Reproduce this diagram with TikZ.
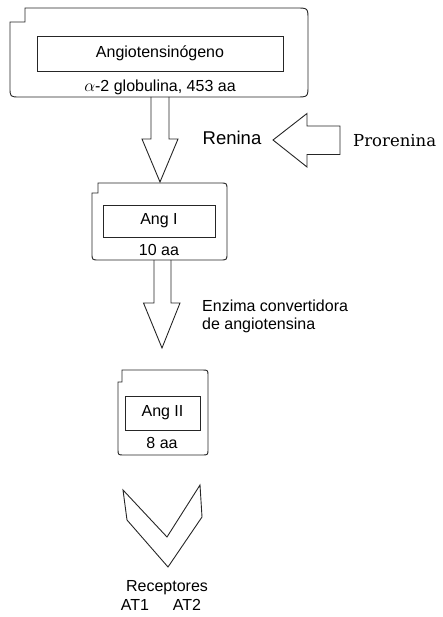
\documentclass[tikz,border=0pt]{standalone}
\usepackage{fontspec}
\newfontfamily\arialfont{Liberation Sans}
\newfontfamily\schoolfont{DejaVu Serif}

\begin{document}
\begin{tikzpicture}[x=1pt, y=-1pt]
	\tikzstyle{frame} = [
		draw=black!85, line width=0.9pt
	]
	\tikzstyle{caption} = [
		font=\arialfont\fontsize{16}{18}\selectfont, inner sep=0pt
	]
	\tikzstyle{comp} = [
		rectangle, draw=black!85, line width=0.9pt, caption
	]
	\tikzstyle{blockarrow} = [
		draw=black!85, line width=0.9pt, line join=miter
	]

	\useasboundingbox (0,0) rectangle (442,617);

	% Angiotensinogeno
	\draw[frame] (10,22) -- (25,22) -- (25,8) -- (296,8) .. controls (308,8) .. (308,20)
		-- (308,85) .. controls (308,97) .. (296,97) -- (20,97) .. controls (10,97) .. (10,87) -- cycle;
	\node (Angio) [comp, minimum width=246pt, minimum height=35pt] at (160,53.5) {Angiotensinógeno};
	\node (Angio_info) [caption] at (160,87) {$\alpha$-2 globulina, 453 aa};
	\coordinate (Angio_out) at (160,97);

	% Ang I
	\draw[frame] (92,193) -- (98,193) -- (98,183) -- (220,183) .. controls (227,183) .. (227,190)
		-- (227,253) .. controls (227,260) .. (220,260) -- (99,260) .. controls (92,260) .. (92,253) -- cycle;
	\node (AngI) [comp, minimum width=112pt, minimum height=32pt] at (159,221) {Ang I};
	\node (AngI_info) [caption] at (159,250) {10 aa};
	\coordinate (AngI_in) at (160,182);
	\coordinate (AngI_out) at (162.5,260);

	% Ang II
	\draw[frame] (118,382) -- (122,382) -- (122,370) -- (202,370) .. controls (208,370) .. (208,376)
		-- (208,449) .. controls (208,455) .. (202,455) -- (124,455) .. controls (118,455) .. (118,449) -- cycle;
	\node (AngII) [comp, minimum width=75pt, minimum height=34pt] at (162.5,413) {Ang II};
	\node (AngII_info) [caption] at (162,443) {8 aa};
	\coordinate (ACE_tip) at (162,348);

	% Renina / Prorenina
	\node (Renina) [font=\arialfont\fontsize{18.5}{20}\selectfont, inner sep=0pt] at (232,138) {Renina};
	\node (Prorenina) [font=\schoolfont\fontsize{16.5}{20}\selectfont, inner sep=0pt, anchor=west] at (353,141) {Prorenina};
	\coordinate (Renina_tip) at (273,140);
	\coordinate (Prorenina_out) at (340,140.5);

	% Enzima convertidora
	\node (ECA) [caption, anchor=west, align=left] at (202,316) {Enzima convertidora\\de angiotensina};

	% Receptores
	\draw[frame] (123,490) -- (167,537) -- (200,485) -- (202,517) -- (168,567) -- (127,520) -- cycle;
	\node (Receptores) [caption] at (167,588) {Receptores};
	\node (AT1) [caption] at (135,605) {AT1};
	\node (AT2) [caption] at (187,605) {AT2};

	% Angiotensinogeno -> Ang I
	\draw[blockarrow] (Angio_out) +(-9,0) -- +(-9,42) -- +(-18,42) -- (AngI_in)
		-- +(18,-43) -- +(9,-43) -- +(9,-85);
	% Ang I -> Ang II
	\draw[blockarrow] (AngI_out) +(-8.5,0) -- +(-8.5,43) -- +(-19,43) -- (ACE_tip)
		-- +(18,-45) -- +(9,-45) -- +(9,-88);
	% Prorenina -> Renina
	\draw[blockarrow] (Prorenina_out) +(0,-14.5) -- +(-33,-14.5) -- +(-33,-27) -- (Renina_tip)
		-- +(34,27) -- +(34,14.5) -- +(67,14.5) -- cycle;

\end{tikzpicture}
\end{document}
